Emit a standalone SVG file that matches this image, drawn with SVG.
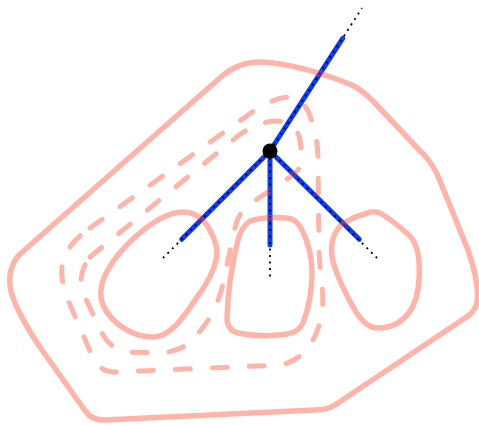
<svg xmlns="http://www.w3.org/2000/svg" width="479" height="426" viewBox="0 0 479 426">
<style>
.edge{stroke:#0a3cff;stroke-width:5;stroke-linecap:round;fill:none}
.dot{stroke:#000;stroke-width:1.8;stroke-dasharray:2 4.5;fill:none}
.solid{stroke:rgb(255,68,43);stroke-opacity:0.4;stroke-width:5.5;fill:none;stroke-linejoin:round}
.dash{stroke:rgb(255,68,43);stroke-opacity:0.4;stroke-width:5;fill:none;stroke-linecap:round;stroke-dasharray:15 22}
</style>
<rect width="479" height="426" fill="#fff"/>
<g id="connectors">
<line class="edge" x1="270" y1="151" x2="342.7" y2="38.3"/>
<line class="edge" x1="270" y1="151" x2="181.7" y2="239.3"/>
<line class="edge" x1="270" y1="151" x2="270" y2="245"/>
<line class="edge" x1="270" y1="151" x2="359.3" y2="239.3"/>
<line class="dot" x1="270" y1="151" x2="362" y2="8"/>
<line class="dot" x1="270" y1="151" x2="163" y2="258"/>
<line class="dot" x1="270" y1="151" x2="270" y2="279"/>
<line class="dot" x1="270" y1="151" x2="377" y2="258"/>
</g>
<g id="vertex">
<circle cx="270" cy="151" r="7.5" fill="#000"/>
</g>
<g id="curves">
<path id="outer" class="solid" d="M 20,254 L 222,76 Q 240,61 262,62 Q 300,64 352,85 Q 362,90 372,100 L 425,156 Q 433,165 438,176 L 468,250 Q 480,285 477,303 Q 474,313 465,318 L 335,405 Q 327,410 314,410 L 104,420 Q 92,420 86,412 L 42,350 Q 20,318 12,295 Q 8,282 11,270 Q 14,260 20,254 Z"/>
<path id="dashed-outer" class="dash" d="M 90,228 L 255,110 Q 275,97 290,97 Q 306,99 312,122 Q 318,140 318,160 L 319,250 Q 320,270 322,285 Q 326,320 310,345 Q 298,362 280,365 L 115,372 Q 100,372 93,358 L 68,300 Q 58,275 64,258 Q 70,242 90,228 Z"/>
<path id="dashed-inner" class="dash" d="M 90,257 L 233,140 Q 255,121 278,121 Q 297,123 300,140 L 302,156 Q 302,170 290,177 L 250,204 Q 238,213 235,228 L 222,288 Q 214,318 192,340 Q 180,352 160,353 L 128,352 Q 112,350 103,335 L 84,295 Q 76,275 90,257 Z"/>
<path id="blob-left" class="solid" d="M 183,212 C 200,212 210,225 216,245 C 220,260 210,280 195,300 C 185,315 172,335 155,337 C 135,338 112,325 103,305 C 95,285 110,260 135,237 C 152,222 168,212 183,212 Z"/>
<path id="blob-middle" class="solid" d="M 250,221 Q 265,216 287,218 Q 297,219 302,230 Q 312,250 312,272 Q 312,300 303,323 Q 299,332 287,334 Q 262,338 238,333 Q 227,330 227,318 Q 228,280 238,240 Q 242,226 250,221 Z"/>
<path id="blob-right" class="solid" d="M 365,214 Q 372,210 380,213 Q 395,222 410,236 Q 418,245 419,262 Q 421,290 412,308 Q 400,328 378,328 Q 366,328 356,312 Q 340,285 333,262 Q 328,240 340,226 Q 350,218 365,214 Z"/>
</g>
</svg>
